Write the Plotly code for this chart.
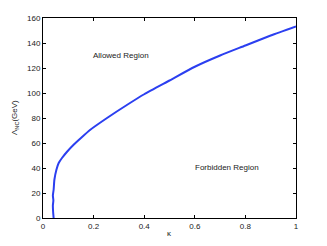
import plotly.graph_objects as go

kappa = [0.042, 0.040, 0.039, 0.041, 0.039, 0.042, 0.045, 0.053, 0.062, 0.075, 0.095,
         0.121, 0.150, 0.187, 0.253, 0.333, 0.400, 0.500, 0.600, 0.700, 0.800, 0.900, 1.000]
lam_nc = [0, 5, 10, 14, 18, 22.6, 30.6, 38.6, 44, 48, 53,
          58.6, 64, 70.6, 80, 90.6, 99, 110, 121, 130, 138, 146, 153.3]

x_ticks = [0, 0.2, 0.4, 0.6, 0.8, 1]
x_labels = ["0", "0.2", "0.4", "0.6", "0.8", "1"]
y_ticks = [0, 20, 40, 60, 80, 100, 120, 140, 160]

font = dict(family="Liberation Sans, Arial, sans-serif", size=8, color="#222222")

fig = go.Figure()
fig.add_trace(go.Scatter(x=kappa, y=lam_nc, mode="lines",
                         line=dict(color="#2b3ff0", width=2, shape="spline", smoothing=0.6),
                         showlegend=False))

fig.add_annotation(x=0.2, y=130, xshift=-3, text="Allowed Region", showarrow=False,
                   xanchor="left", yanchor="middle", font=font)
fig.add_annotation(x=0.6, y=40.8, xshift=-2, text="Forbidden Region", showarrow=False,
                   xanchor="left", yanchor="middle", font=font)
# axis titles
fig.add_annotation(x=0.5, xref="paper", y=0, yref="paper", yshift=-15,
                   text="κ", showarrow=False, xanchor="center", yanchor="middle", font=font)
fig.add_annotation(x=0, xref="paper", xshift=-28, y=0.5, yref="paper",
                   text="Λ<sub>NC</sub>(GeV)", textangle=-90, showarrow=False,
                   xanchor="center", yanchor="middle", font=font)

axis_common = dict(showline=True, linecolor="black", linewidth=1, mirror="ticks",
                   ticks="inside", ticklen=3, tickcolor="black", showgrid=False,
                   zeroline=False, tickfont=font, automargin=False)

# page body has an 8px margin, so figure is offset by (8, 8)
fig.update_layout(
    template="simple_white",
    width=319, height=238,
    margin=dict(l=35, r=31, t=10, b=28),
    paper_bgcolor="white", plot_bgcolor="white",
    xaxis=dict(range=[0, 1], tickvals=x_ticks, ticktext=x_labels, **axis_common),
    yaxis=dict(range=[0, 160], tickvals=y_ticks, **axis_common),
)

fig.write_html("out.html")
